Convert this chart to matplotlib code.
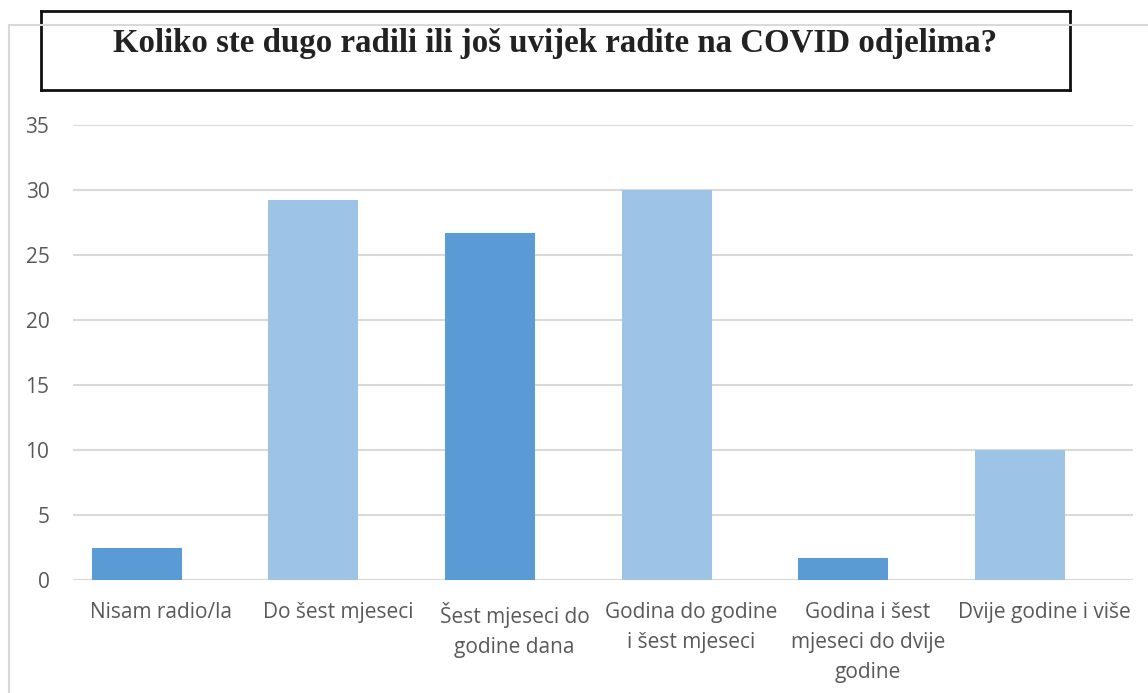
import matplotlib.pyplot as plt
from matplotlib.patches import Rectangle

# podaci
kategorije = ["Nisam radio/la", "Do šest mjeseci", "Šest mjeseci do\ngodine dana",
              "Godina do godine\ni šest mjeseci", "Godina i šest\nmjeseci do dvije\ngodine",
              "Dvije godine i više"]
vrijednosti = [2.5, 29.2, 26.7, 30.0, 1.7, 10.0]
boje = ["#5B9BD5", "#9DC3E6", "#5B9BD5", "#9DC3E6", "#5B9BD5", "#9DC3E6"]
y_ticks = [0, 5, 10, 15, 20, 25, 30, 35]

fig = plt.figure(figsize=(11.48, 6.93), dpi=100)
W, H = 1148, 693

# vanjski okvir
fig.patches.append(Rectangle((9 / W, -0.1), 1.2, 1 - 25 / H + 0.1, transform=fig.transFigure,
                             fill=False, edgecolor="#D9D9D9", linewidth=1.5))

ax = fig.add_axes([73 / W, 1 - 580 / H, (1133 - 73) / W, (580 - 125) / H])
x = list(range(len(kategorije)))
ax.bar([i - 0.14 for i in x], vrijednosti, width=0.51, color=boje, zorder=3)

ax.set_ylim(0, 35)
ax.set_xlim(-0.5, 5.5)
ax.set_yticks(y_ticks)
ax.set_xticks(x)
ax.set_xticklabels(kategorije, fontfamily="Open Sans", fontsize=15, color="#595959", linespacing=1.56)
for lbl in ax.get_yticklabels():
    lbl.set_fontfamily("Open Sans")
    lbl.set_fontsize(15)
    lbl.set_color("#595959")
ax.tick_params(length=0, pad=16)
ax.tick_params(axis="y", pad=17)
ax.grid(axis="y", color="#D9D9D9", linewidth=1.5, zorder=0)
for s in ax.spines.values():
    s.set_visible(False)
ax.axhline(0, color="#D9D9D9", linewidth=1.5, zorder=2)

# naslov u okviru
box = fig.add_axes([41 / W, 1 - 90 / H, (1070 - 41) / W, (90 - 11) / H])
box.set_xticks([])
box.set_yticks([])
for s in box.spines.values():
    s.set_linewidth(2)
    s.set_color("#111111")
box.text(0.5, 0.48, "Koliko ste dugo radili ili još uvijek radite na COVID odjelima?",
         ha="center", va="baseline", fontfamily="Liberation Serif", fontweight="bold",
         fontsize=23.7, color="#222222", transform=box.transAxes)

fig.savefig("out.png", dpi=100)
